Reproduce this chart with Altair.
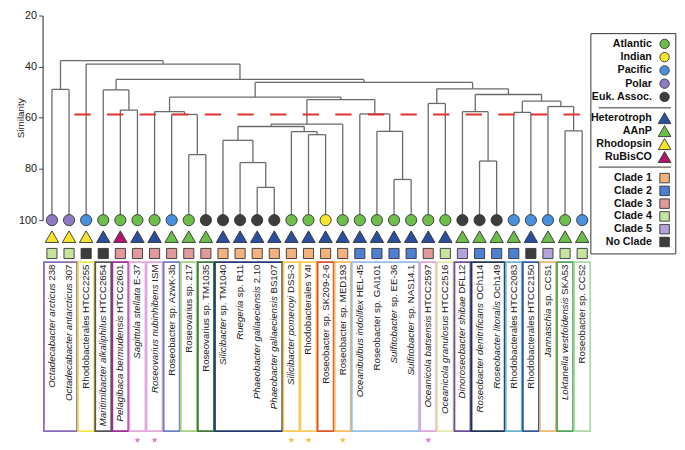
import math
import altair as alt
import pandas as pd

# ------------------------------------------------------------------ data
leaf_names = [
    "Octadecabacter arcticus 238", "Octadecabacter antarcticus 307",
    "Rhodobacterales HTCC2255", "Maritimibacter alkaliphilus HTCC2654",
    "Pelagibaca bermudensis HTCC2601", "Sagittula stellata E-37",
    "Roseovarius nubinhibens ISM", "Roseobacter sp. AzwK-3b",
    "Roseovarius sp. 217", "Roseovarius sp. TM1035",
    "Silicibacter sp. TM1040", "Ruegeria sp. R11",
    "Phaeobacter gallaeciensis 2.10", "Phaeobacter gallaeciensis BS107",
    "Silicibacter pomeroyi DSS-3", "Rhodobacterales Y4I",
    "Roseobacter sp. SK209-2-6", "Roseobacter sp. MED193",
    "Oceanibulbus indolifex HEL-45", "Roseobacter sp. GAI101",
    "Sulfitobacter sp. EE-36", "Sulfitobacter sp. NAS14.1",
    "Oceanicola batsensis HTCC2597", "Oceanicola granulosus HTCC2516",
    "Dinoroseobacter shibae DFL12", "Roseobacter denitrificans OCh114",
    "Roseobacter litoralis Och149", "Rhodobacterales HTCC2083",
    "Rhodobacterales HTCC2150", "Jannaschia sp. CCS1",
    "Loktanella vestfoldensis SKA53", "Roseobacter sp. CCS2",
]
leaf_italic = [
    "Octadecabacter arcticus", "Octadecabacter antarcticus", "",
    "Maritimibacter alkaliphilus", "Pelagibaca bermudensis", "Sagittula stellata",
    "Roseovarius nubinhibens", "", "", "",
    "Silicibacter", "Ruegeria", "Phaeobacter gallaeciensis", "Phaeobacter gallaeciensis",
    "Silicibacter pomeroyi", "", "", "",
    "Oceanibulbus indolifex", "", "Sulfitobacter", "Sulfitobacter",
    "Oceanicola batsensis", "Oceanicola granulosus", "Dinoroseobacter shibae",
    "Roseobacter denitrificans", "Roseobacter litoralis", "", "",
    "Jannaschia", "Loktanella vestfoldensis", "",
]
ocean = [
    "Polar", "Polar", "Pacific", "Atlantic", "Atlantic", "Atlantic", "Atlantic",
    "Pacific", "Atlantic", "Euk. Assoc.", "Euk. Assoc.", "Euk. Assoc.",
    "Euk. Assoc.", "Euk. Assoc.", "Atlantic", "Atlantic", "Indian", "Atlantic",
    "Atlantic", "Atlantic", "Atlantic", "Atlantic", "Atlantic", "Atlantic",
    "Euk. Assoc.", "Euk. Assoc.", "Euk. Assoc.", "Pacific", "Pacific", "Pacific",
    "Atlantic", "Pacific",
]
lifestyle = [
    "Rhodopsin", "Rhodopsin", "Rhodopsin", "Heterotroph", "RuBisCO",
    "Heterotroph", "Heterotroph", "AAnP", "AAnP", "AAnP",
    "Heterotroph", "Heterotroph", "Heterotroph", "Heterotroph", "Heterotroph",
    "Heterotroph", "Heterotroph", "Heterotroph", "Heterotroph", "Heterotroph",
    "Heterotroph", "Heterotroph", "Heterotroph", "Heterotroph",
    "AAnP", "AAnP", "AAnP", "AAnP", "Heterotroph", "AAnP", "AAnP", "AAnP",
]
clade = [
    "Clade 4", "Clade 4", "No Clade", "No Clade",
    "Clade 3", "Clade 3", "Clade 3", "Clade 3", "Clade 3", "Clade 3",
    "Clade 1", "Clade 1", "Clade 1", "Clade 1", "Clade 1", "Clade 1", "Clade 1", "Clade 1",
    "Clade 2", "Clade 2", "Clade 2", "Clade 2",
    "Clade 3", "Clade 4", "Clade 5", "Clade 2", "Clade 2", "Clade 2",
    "No Clade", "Clade 5", "Clade 4", "Clade 4",
]

# dendrogram merges (leaves are numbered 1..32 from the left)
merge_name = ["R", "Q", "O", "S", "P", "N", "M", "V", "U", "T", "L", "K", "J", "I", "G",
              "AB", "Z", "AE", "AD", "AC", "AA", "Y", "X", "W", "H", "F", "E", "D", "B",
              "A", "root"]
merge_left = [13, 12, 11, 16, 15, "O", "N", 21, 20, 19, "M", 9, 8, 7, "I",
              26, 25, 31, 30, 28, "AC", "Z", 23, "X", "G", 5, 4, "E", 3, 1, "A"]
merge_right = [14, "R", "Q", 17, "S", "P", 18, 22, "V", "U", "T", 10, "K", "J", "L",
               27, "AB", 32, "AE", 29, "AD", "AA", 24, "Y", "W", 6, "F", "H", "D", 2, "B"]
merge_height = [87.2, 77.5, 68.8, 66.6, 65.4, 63.4, 62.5, 84.1, 65.3, 58.5, 52.9,
                74.4, 58.7, 57.6, 51.9, 76.9, 57.6, 65.1, 55.6, 57.9, 53.5, 50.9,
                54.4, 48.7, 46.2, 57.0, 49.1, 45.0, 39.0, 48.9, 37.7]
threshold = 58.7

# boxes around labels
box_first = [1, 3, 4, 5, 6, 7, 8, 9, 10, 11, 15, 16, 17, 18, 19, 23, 24, 25, 26, 28, 29, 30, 31, 32]
box_last = [2, 3, 4, 5, 6, 7, 8, 9, 10, 14, 15, 16, 17, 18, 22, 23, 24, 25, 27, 28, 29, 30, 31, 32]
box_color = ["#8a6bb8", "#f3e64c", "#555555", "#9c2f8c", "#e2a8de", "#e2a8de", "#6f80c2",
             "#a3d27c", "#3f7a41", "#24396f", "#f6cb58", "#f6cb58", "#e2502f", "#f5bd5b",
             "#94bfe3", "#dfa7dc", "#e2eaa6", "#6e4c9c", "#1f3558", "#6db2cc", "#2f5c9e",
             "#f1b576", "#53a45b", "#abdba8"]

star_leaf = [6, 7, 15, 16, 18, 23]
star_color = ["#d884d0", "#d884d0", "#f5c545", "#f5c545", "#f5c545", "#d884d0"]

ocean_cats = ["Atlantic", "Indian", "Pacific", "Polar", "Euk. Assoc."]
ocean_cols = ["#6fbd4b", "#f4e62c", "#4a91dd", "#8e7cc3", "#3d3d3d"]
life_cats = ["Heterotroph", "AAnP", "Rhodopsin", "RuBisCO"]
life_cols = ["#2a4f9e", "#6dbd4b", "#f4e62c", "#b3156b"]
clade_cats = ["Clade 1", "Clade 2", "Clade 3", "Clade 4", "Clade 5", "No Clade"]
clade_cols = ["#f2b27d", "#4e7fd0", "#e09a9a", "#c6e4a0", "#b3a3d9", "#3d3d3d"]

# ------------------------------------------------------------------ layout helpers
SX, SY = 0.988, 0.9714
PAD_L = 35
W_TOTAL, H_TOTAL = 677, 442


def px_x(xr):
    return SX * xr - PAD_L


def px_y(yr):
    return SY * yr


Y20, Y100 = px_y(5.0), px_y(218.3)


def val_from_px(p):
    return 20 + (p - Y20) / (Y100 - Y20) * 80


def val_from_ref(yr):
    return val_from_px(px_y(yr))


ARIAL = {' ': 278, '-': 333, '.': 278, '0': 556, '1': 556, '2': 556, '3': 556, '4': 556,
         '5': 556, '6': 556, '7': 556, '8': 556, '9': 556,
         'A': 667, 'B': 667, 'C': 722, 'D': 722, 'E': 667, 'F': 611, 'G': 778, 'H': 722,
         'I': 278, 'J': 500, 'K': 667, 'L': 556, 'M': 833, 'N': 722, 'O': 778, 'P': 667,
         'Q': 778, 'R': 722, 'S': 667, 'T': 611, 'U': 722, 'V': 667, 'W': 944, 'X': 667,
         'Y': 667, 'Z': 611, 'a': 556, 'b': 556, 'c': 500, 'd': 556, 'e': 556, 'f': 278,
         'g': 556, 'h': 556, 'i': 222, 'j': 222, 'k': 500, 'l': 222, 'm': 833, 'n': 556,
         'o': 556, 'p': 556, 'q': 556, 'r': 333, 's': 500, 't': 278, 'u': 556, 'v': 500,
         'w': 722, 'x': 500, 'y': 500, 'z': 500}
LABEL_FS = 9.8


def text_w(s, fs):
    return sum(ARIAL.get(c, 556) for c in s) * fs / 1000.0


xscale = alt.Scale(domain=[0, 31], range=[px_x(45), px_x(588.1)], nice=False, zero=False)
yscale = alt.Scale(domain=[20, 100], range=[Y20, Y100], nice=False, zero=False)
yaxis = alt.Axis(values=[20, 40, 60, 80, 100], title="Similarity", grid=False,
                 tickSize=4, labelPadding=2, labelFontSize=11, labelColor="#222",
                 domainColor="#444", tickColor="#444", domainWidth=1.2,
                 titleFontSize=10, titleFontWeight="normal", titleColor="#222",
                 titleX=-17, titleY=(Y20 + Y100) / 2)


def X(f):
    return alt.X(f, type="quantitative", scale=xscale, axis=None)


def Y(f):
    return alt.Y(f, type="quantitative", scale=yscale, axis=yaxis)


fill_scale = alt.Scale(domain=ocean_cats + life_cats + clade_cats,
                       range=ocean_cols + life_cols + clade_cols)

# ------------------------------------------------------------------ dendrogram segments
pos = {i + 1: (float(i), 100.0) for i in range(len(leaf_names))}
hseg, vseg = [], []
for name, l, r, h in zip(merge_name, merge_left, merge_right, merge_height):
    xl, hl = pos[l]
    xr, hr = pos[r]
    hseg.append({"x": xl, "x2": xr, "y": h})
    vseg.append({"x": xl, "y": hl, "y2": h})
    vseg.append({"x": xr, "y": hr, "y2": h})
    pos[name] = ((xl + xr) / 2.0, h)
hdf = pd.DataFrame(hseg)
vdf = pd.DataFrame(vseg)

LINE_COL = "#6a6a6a"
h_layer = alt.Chart(hdf).mark_rule(color=LINE_COL, strokeWidth=1.3).encode(
    x=X("x"), x2="x2", y=Y("y"))
v_layer = alt.Chart(vdf).mark_rule(color=LINE_COL, strokeWidth=1.3).encode(
    x=X("x"), y=Y("y"), y2="y2")

thr_layer = alt.Chart(pd.DataFrame({"t": [threshold]})).mark_rule(
    color="#e0322e", strokeWidth=2, strokeDash=[16.5, 16.5]).encode(
    x=alt.value(px_x(68)), x2=alt.value(px_x(587)), y=Y("t"))

# ------------------------------------------------------------------ leaf symbols
leaves = pd.DataFrame({
    "i": list(range(len(leaf_names))), "ocean": ocean, "life": lifestyle, "clade": clade,
    "yc": 100.0, "yt": val_from_ref(235.5), "ys": val_from_ref(253.0),
})
circ = alt.Chart(leaves).mark_point(shape="circle", filled=True, size=128, stroke="#333",
                                    strokeWidth=0.9, opacity=1).encode(
    x=X("i"), y=Y("yc"), fill=alt.Fill("ocean:N", scale=fill_scale, legend=None))
tri = alt.Chart(leaves).mark_point(shape="triangle-up", filled=True, size=185, stroke="#333",
                                   strokeWidth=0.9, opacity=1).encode(
    x=X("i"), y=Y("yt"), fill=alt.Fill("life:N", scale=fill_scale, legend=None))
sq = alt.Chart(leaves).mark_point(shape="square", filled=True, size=105, stroke="#333",
                                  strokeWidth=0.9, opacity=1).encode(
    x=X("i"), y=Y("ys"), fill=alt.Fill("clade:N", scale=fill_scale, legend=None))

# ------------------------------------------------------------------ label boxes
HALF = 8.2 / 17.52
boxes = pd.DataFrame({
    "x": [f - 1 - HALF for f in box_first], "x2": [l - 1 + HALF for l in box_last],
    "y": val_from_ref(262.0), "y2": val_from_ref(438.0), "c": box_color,
})
box_layer = alt.Chart(boxes).mark_rect(fillOpacity=0, strokeWidth=1.8).encode(
    x=X("x"), x2="x2", y=Y("y"), y2="y2", stroke=alt.Stroke("c:N", scale=None))

# ------------------------------------------------------------------ labels (italic + roman parts)
top_px = px_y(264.5)
rom_rows, ita_rows = [], []
for i, (full, ita) in enumerate(zip(leaf_names, leaf_italic)):
    rom = full[len(ita):].strip()
    if rom:
        rom_rows.append({"i": i, "t": rom, "y": val_from_px(top_px)})
    if ita:
        off = text_w(" " + rom, LABEL_FS) if rom else 0.0
        ita_rows.append({"i": i, "t": ita, "y": val_from_px(top_px + off)})
rom_layer = alt.Chart(pd.DataFrame(rom_rows)).mark_text(
    angle=270, align="right", baseline="middle", fontSize=LABEL_FS, color="#222",
    font="Liberation Sans").encode(x=X("i"), y=Y("y"), text="t:N")
ita_layer = alt.Chart(pd.DataFrame(ita_rows)).mark_text(
    angle=270, align="right", baseline="middle", fontSize=LABEL_FS, color="#222",
    fontStyle="italic", font="Liberation Sans").encode(x=X("i"), y=Y("y"), text="t:N")

# ------------------------------------------------------------------ stars
pts = []
for k in range(10):
    rr = 1.0 if k % 2 == 0 else 0.45
    a = -math.pi / 2 + k * math.pi / 5
    pts.append(f"{rr * math.cos(a):.3f},{rr * math.sin(a):.3f}")
STAR = "M" + " L".join(pts) + " Z"
stars = pd.DataFrame({"i": [s - 1 for s in star_leaf], "c": star_color,
                      "y": val_from_ref(447.5)})
star_layer = alt.Chart(stars).mark_point(shape=STAR, filled=True, size=42, opacity=1,
                                         strokeWidth=0).encode(
    x=X("i"), y=Y("y"), fill=alt.Fill("c:N", scale=None))

# ------------------------------------------------------------------ custom legend
leg_labels = ocean_cats + life_cats + clade_cats
leg_shapes = ["circle"] * 5 + ["triangle-up"] * 4 + ["square"] * 6
leg_sizes = [90] * 5 + [165] * 4 + [92] * 6
leg_ref_y = ([34.7 + 13.8 * k for k in range(5)] + [112.0 + 13.5 * k for k in range(4)]
             + [174.5 + 13.3 * k for k in range(6)])
legend = pd.DataFrame({"lab": leg_labels, "shape": leg_shapes, "size": leg_sizes,
                       "y": [val_from_ref(v) for v in leg_ref_y]})
frame = alt.Chart(pd.DataFrame({"a": [0]})).mark_rect(
    fill="white", stroke="#333", strokeWidth=1).encode(
    x=alt.value(px_x(597)), x2=alt.value(px_x(684)),
    y=alt.value(px_y(24)), y2=alt.value(px_y(253.5)))
seps = alt.Chart(pd.DataFrame({"y": [val_from_ref(101.3), val_from_ref(163.0)]})).mark_rule(
    color="#333", strokeWidth=1).encode(
    x=alt.value(px_x(605)), x2=alt.value(px_x(679)), y=Y("y"))
leg_text = alt.Chart(legend).mark_text(
    align="right", baseline="middle", fontSize=10.8, fontWeight="bold", color="#111",
    font="Liberation Sans").encode(x=alt.value(px_x(659.5)), y=Y("y"), text="lab:N")
leg_sym = alt.Chart(legend).mark_point(filled=True, stroke="#333", strokeWidth=0.9,
                                       opacity=1).encode(
    x=alt.value(px_x(672.5)), y=Y("y"),
    shape=alt.Shape("shape:N", scale=None),
    size=alt.Size("size:Q", scale=None),
    fill=alt.Fill("lab:N", scale=fill_scale, legend=None))

chart = alt.layer(
    h_layer, v_layer, thr_layer, circ, tri, sq, box_layer, rom_layer, ita_layer,
    star_layer, frame, seps, leg_text, leg_sym,
).properties(
    width=W_TOTAL - PAD_L, height=H_TOTAL,
    autosize=alt.AutoSizeParams(type="none"),
    padding={"left": PAD_L, "top": 0, "right": 0, "bottom": 0},
).configure(font="Liberation Sans").configure_view(stroke=None)

chart.save("out.html", embed_options={"renderer": "svg", "actions": False})
